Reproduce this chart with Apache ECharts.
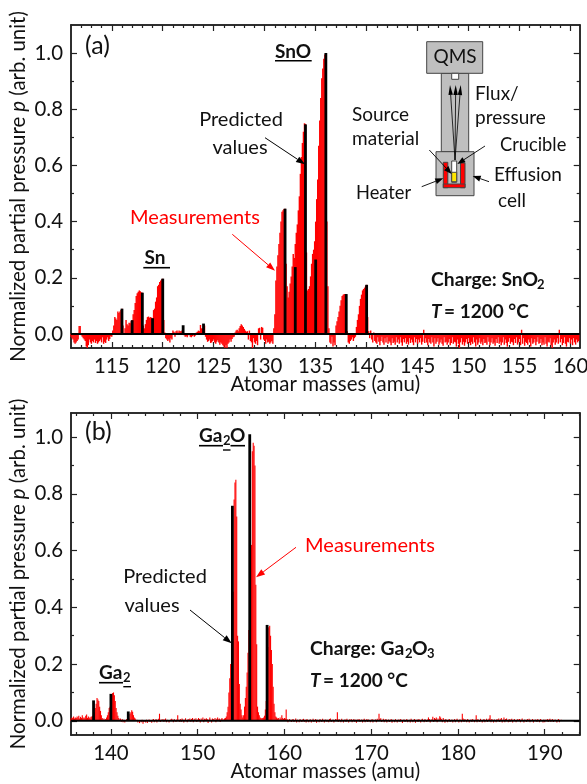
<!DOCTYPE html>
<html><head><meta charset="utf-8">
<style>html,body{margin:0;padding:0;background:#fff}#c{width:587px;height:784px}</style>
<script src="https://cdn.jsdelivr.net/npm/echarts@6/dist/echarts.min.js"></script>
</head><body><div id="c"></div>
<script>
// Panel (a): measured spectrum, 0.1 amu steps starting at 111.0
const startA = 111.0;
const measA = [
-.01,-.015,-.02,-.03,-.035,-.03,-.025,-.02,.028,.028,
-.005,-.01,-.015,-.02,-.025,-.045,-.05,-.04,-.02,-.03,
-.035,-.025,-.03,-.02,-.032,-.025,-.035,-.03,-.025,-.02,
-.03,-.012,-.035,-.028,-.032,-.02,-.012,-.025,-.018,-.008,
-.01,.012,.03,.06,.055,.05,.08,.075,.08,.085,
.09,.03,.003,.02,.05,.035,.03,.04,.038,.045,
.05,.07,.085,.11,.135,.145,.15,.155,.152,.148,
.147,.03,.02,.035,.05,.06,.062,.058,.06,.058,
.056,.085,.09,.115,.13,.17,.175,.185,.19,.195,
.197,.05,.005,-.015,-.02,-.025,-.02,-.03,-.015,-.02,
.012,.008,-.01,.01,.012,.005,.012,.01,.01,.012,
.008,-.005,-.01,-.008,-.012,-.005,.002,-.01,-.012,-.008,
-.005,-.01,-.006,.005,.008,.012,.01,.032,.02,.02,
.035,.03,-.01,-.02,-.028,-.025,-.02,-.032,-.03,-.025,
-.02,-.03,-.035,-.028,-.022,-.03,-.038,-.03,-.035,-.04,
-.045,-.05,-.04,-.05,-.035,-.03,-.02,-.028,-.018,-.012,
-.01,.005,.012,.015,.01,.02,.028,.035,.03,.025,
.018,.012,.008,.01,-.02,.012,-.025,-.03,-.05,-.015,
-.03,-.035,-.025,-.04,.02,.022,-.02,.025,.022,-.02,
-.025,-.035,-.02,-.03,-.028,-.035,-.03,-.025,-.035,.02,
.07,.19,.24,.28,.32,.36,.40,.435,.44,.445,
.446,.25,.17,.13,.15,.18,.205,.24,.285,.27,
.32,.36,.39,.44,.49,.57,.63,.68,.72,.75,
.748,.29,.155,.16,.17,.205,.25,.285,.30,.33,
.40,.48,.55,.67,.76,.84,.91,.945,.98,.995,
1.0,.40,.17,.02,-.03,-.035,-.01,-.045,-.03,-.04,
.03,.045,.06,.08,.10,.12,.135,.14,.142,.142,
.142,.01,-.03,-.035,-.025,-.02,-.012,-.025,-.015,-.01,
.025,.05,.07,.10,.125,.14,.155,.16,.165,.172,
.175,.06,.01,-.015,.012,-.02,-.03,.005,-.025,-.03,
-.035,-.012,-.028,-.04,-.025,-.01,-.03,-.038,-.015,-.03,
-.012,-.035,-.025,-.03,-.04,-.015,-.032,-.028,-.038,-.012,
-.03,-.02,-.035,-.012,-.03,-.042,-.018,-.03,-.015,-.035,
-.028,-.038,-.015,-.032,-.02,-.03,-.04,-.012,-.03,-.018,
-.035,-.02,-.03,-.015,-.038,-.028,.015,-.032,-.015,-.03,
-.04,-.018,-.03,-.035,-.012,-.03,-.045,-.015,-.035,-.028,
-.015,-.038,-.03,-.02,-.035,-.042,-.012,-.03,-.028,-.038,
-.03,-.018,-.04,-.032,-.012,-.035,-.028,-.03,-.045,-.02,
-.035,-.05,-.03,-.015,-.038,-.028,-.042,-.03,-.018,-.035,
-.015,-.032,-.04,-.028,-.035,-.012,-.03,-.045,-.02,-.038,
-.03,-.015,-.035,-.028,-.04,-.018,-.032,-.03,-.038,-.012,
-.028,-.04,-.03,-.015,-.035,-.03,-.042,-.018,-.032,-.012,
-.035,-.028,-.04,-.03,-.012,-.038,-.02,-.032,-.045,-.028,
-.015,-.035,-.028,-.03,-.04,-.018,-.032,-.012,-.038,-.03,
-.018,-.04,.015,-.035,-.015,-.042,-.028,-.032,-.038,-.02,
-.03,-.045,-.015,-.035,-.03,-.018,-.04,-.028,-.012,-.035,
-.032,-.018,-.04,-.03,-.038,-.012,-.035,-.045,-.028,-.03,
-.015,-.04,-.05,-.03,-.02,-.038,-.03,-.015,-.035,.015,
-.03,-.018,-.04,-.032,-.012,-.035,-.045,-.028,-.03,-.015,
-.035,-.02,-.04,-.015,-.03,-.038,-.02,-.03,-.025
];
// Panel (a): predicted isotope lines
const predMassA = [116,117,118,119,120,122,124,132,133,134,135,136,138,140];
const predValA = [.09,.049,.147,.056,.197,.031,.037,.446,.238,.746,.265,1.0,.142,.175];
const xMajorA = [115,120,125,130,135,140,145,150,155,160];
const xMinorA = [112,113,114,116,117,118,119,121,122,123,124,126,127,128,129,131,132,133,134,136,137,138,139,141,142,143,144,146,147,148,149,151,152,153,154,156,157,158,159];
const yMajor = [0,.2,.4,.6,.8,1];
const yMinor = [.1,.3,.5,.7,.9];

// Panel (b): measured spectrum, 0.1 amu steps starting at 135.4
const startB = 135.4;
const measB = [
.008,.012,.01,.015,.008,.012,
.01,.015,.012,.018,.008,.014,.01,.02,.012,.008,
.012,.018,.022,.01,.015,.012,.008,.014,.015,.018,
.02,.03,.045,.06,.08,.075,.07,.05,.035,.02,
.01,.005,.008,.004,.006,.012,.02,.03,.045,.05,
.06,.09,.098,.1,.09,.07,.045,.03,.018,.01,
.005,.008,-.003,.006,-.005,.004,-.006,.003,.006,.005,
.01,.008,.025,.03,.037,.032,.02,.012,.008,.003,
.004,-.006,.003,-.008,.002,-.005,.004,-.01,-.004,.003,
-.006,.004,-.008,.002,.005,-.004,.003,-.007,.004,.006,
-.005,.003,.006,-.006,.004,.007,.025,-.004,.005,.002,
.006,-.003,.005,.008,-.005,.004,.002,-.006,.003,.005,
.007,.004,-.005,.006,.003,-.004,.005,.02,.004,-.003,
.006,-.004,.008,.005,-.006,.004,.009,.003,-.005,.006,
.004,.008,-.003,.006,.01,-.005,.007,.004,.009,-.004,
.005,.01,.006,-.006,.008,.004,.012,-.005,.007,.005,
.009,.006,-.008,.005,.012,.004,-.006,.008,.006,.004,
.01,-.005,.007,.012,.005,.008,-.004,.006,.01,.005,
.005,.008,.01,.015,.03,.05,.10,.15,.2,.28,
.40,.455,.78,.84,.85,.72,.30,.28,.13,.06,
.04,.02,.012,.02,.05,.08,.12,.17,.24,.32,
.5,.55,.62,.95,.98,.97,.9,.48,.27,.05,
.03,.02,.012,.01,.008,.01,.012,.018,.04,.07,
.15,.26,.33,.335,.3,.25,.2,.12,.06,.03,
.015,.012,.008,.01,.005,.012,.006,.02,.01,.006,
.01,.008,.04,.006,-.005,.004,.006,.002,-.004,.005,
.006,-.004,.003,.008,-.006,.004,.002,-.005,.006,.003,
-.004,.005,.007,-.003,.004,-.006,.006,.002,-.005,.004,
.005,-.006,.003,.007,-.004,.002,.006,-.007,.004,.003,
-.005,.006,.002,-.004,.007,.003,-.006,.005,.004,-.003,
.004,-.005,.006,.008,-.004,.003,.005,-.006,.002,.006,
.004,.03,-.004,.006,.003,-.005,.007,.002,-.006,.004,
.005,-.004,.007,.003,-.006,.005,.002,.006,-.005,.003,
.006,-.003,.004,-.007,.005,.002,.006,-.004,.003,.005,
-.006,.004,.007,-.005,.003,.006,-.004,.005,.002,-.005,
.003,.006,-.006,.004,.002,.005,-.005,.007,.003,.025,
.006,.009,-.004,.003,.007,-.005,.004,.006,-.006,.003,
.005,-.004,.002,.006,-.007,.004,.003,-.005,.006,.002,
-.006,.004,.005,-.003,.006,.002,-.008,.004,.005,-.004,
.003,.006,-.005,.002,.004,-.006,.007,.003,-.005,.004,
.006,-.007,.003,.005,-.004,.006,.002,-.006,.004,.007,
.003,-.005,.006,.002,-.004,.005,.012,.006,-.006,.004,
.005,.014,-.004,.01,.006,.012,-.005,.008,.004,.016,
.012,.006,-.005,.01,.004,-.007,.006,.003,-.005,.004,
.006,-.004,.003,.005,-.006,.002,.006,-.005,.004,.007,
.003,-.006,.005,.004,-.005,.025,.008,-.004,.006,.003,
-.005,.006,.004,-.006,.003,.005,-.004,.006,.002,-.005,
.004,.02,-.005,.006,.003,-.004,.007,.002,-.006,.004,
.006,-.005,.003,.007,-.004,.005,.008,.02,-.005,.006,
.004,-.006,.005,.002,-.005,.006,.003,.008,-.004,.005,
.01,-.006,.004,.012,-.005,.006,.008,.003,-.005,.006,
-.004,.005,.007,-.006,.003,.006,.002,-.005,.004,.006,
.003,.006,-.005,.004,.008,.002,-.006,.005,.003,-.004,
.006,.003,.007,-.005,.004,.002,.006,-.006,.003,.005,
.004,-.004,.006,.002,-.005,.006,.004,.003,-.006,.005,
-.005,.004,.002,.006,-.004,.005,.007,-.003,.004,.006,
-.004,.003,.005,.002,-.006,.004,.006,-.005,.003,.004,
.003
];
const predMassB = [138,140,142,154,156,158];
const predValB = [.072,.095,.033,.758,1.01,.338];
const xMajorB = [140,150,160,170,180,190];
const xMinorB = [136,138,142,144,146,148,152,154,156,158,162,164,166,168,172,174,176,178,182,184,186,188,192,194];

const axisColor = '#222';
const F = 'Lato, "Noto Sans", sans-serif';
const black = '#000', red = '#ff0000';
const axisFont = 20.4;

function xAxes(g, mn, mx, major, minor){
  const base = {type:'value',gridIndex:g,min:mn,max:mx,splitLine:{show:false},
    axisLine:{show:true,onZero:false,lineStyle:{color:axisColor,width:1.5}}};
  const lab = {show:true,customValues:major,color:'#111',fontFamily:F,fontSize:axisFont,margin:8,
    formatter:v=>String(Math.round(v))};
  return [
    {...base,position:'bottom',axisLabel:lab,name:'Atomar masses (amu)',nameLocation:'middle',nameGap:26,nameMoveOverlap:false,
      nameTextStyle:{color:'#111',fontFamily:F,fontSize:axisFont},
      axisTick:{show:true,inside:true,length:6,customValues:major,lineStyle:{color:axisColor,width:1.2}}},
    {...base,position:'bottom',axisLabel:{show:false},
      axisTick:{show:true,inside:true,length:3,customValues:minor,lineStyle:{color:axisColor,width:1.2}}},
    {...base,position:'top',axisLabel:{show:false},
      axisTick:{show:true,inside:true,length:6,customValues:major,lineStyle:{color:axisColor,width:1.2}}},
    {...base,position:'top',axisLabel:{show:false},
      axisTick:{show:true,inside:true,length:3,customValues:minor,lineStyle:{color:axisColor,width:1.2}}}
  ];
}
function yAxes(g, mn, mx){
  const base = {type:'value',gridIndex:g,min:mn,max:mx,splitLine:{show:false},
    axisLine:{show:true,onZero:false,lineStyle:{color:axisColor,width:1.5}}};
  return [
    {...base,position:'left',
      axisLabel:{show:true,customValues:yMajor,color:'#111',fontFamily:F,fontSize:axisFont,margin:8,formatter:v=>v.toFixed(1)},
      name:'{n|Normalized partial pressure }{i|p}{n| (arb. unit)}',nameLocation:'middle',nameGap:43,nameRotate:90,nameMoveOverlap:false,
      nameTextStyle:{rich:{n:{color:'#111',fontFamily:F,fontSize:axisFont},i:{color:'#111',fontFamily:F,fontSize:axisFont,fontStyle:'italic'}}},
      axisTick:{show:true,inside:true,length:6,customValues:yMajor,lineStyle:{color:axisColor,width:1.2}}},
    {...base,position:'left',axisLabel:{show:false},
      axisTick:{show:true,inside:true,length:3,customValues:yMinor,lineStyle:{color:axisColor,width:1.2}}},
    {...base,position:'right',axisLabel:{show:false},
      axisTick:{show:true,inside:true,length:6,customValues:yMajor,lineStyle:{color:axisColor,width:1.2}}},
    {...base,position:'right',axisLabel:{show:false},
      axisTick:{show:true,inside:true,length:3,customValues:yMinor,lineStyle:{color:axisColor,width:1.2}}}
  ];
}
function panelSeries(xi, yi, start, meas, pm, pv, mn, mx, redW, blackW){
  return [
    {type:'bar',xAxisIndex:xi+1,yAxisIndex:yi,barWidth:redW,silent:true,itemStyle:{color:red},
      data:meas.map((v,i)=>[start+i*0.1,v])},
    {type:'bar',xAxisIndex:xi,yAxisIndex:yi,barWidth:blackW,silent:true,itemStyle:{color:black},
      data:pm.map((m,i)=>[m,pv[i]])},
    {type:'line',xAxisIndex:xi,yAxisIndex:yi,symbol:'none',silent:true,lineStyle:{color:black,width:2},
      data:[[mn,0],[mx,0]]}
  ];
}

// annotation helpers
function T(x,y,text,o={}){
  return {type:'text',silent:true,x,y,z:50,style:{text,fontFamily:F,fontSize:o.fs||19,fontWeight:o.b?'bold':'normal',
    fontStyle:o.i?'italic':'normal',fill:o.c||'#111',align:o.a||'left',verticalAlign:'middle'}};
}
function L(x1,y1,x2,y2,c='#000',w=1){
  return {type:'line',silent:true,z:40,shape:{x1,y1,x2,y2},style:{stroke:c,lineWidth:w}};
}
function R(x,y,w,h,fill,stroke){
  return {type:'rect',silent:true,z:30,shape:{x,y,width:w,height:h},style:{fill,stroke:stroke||null,lineWidth:stroke?1:0}};
}
function A(x1,y1,x2,y2,c='#000',w=1,hl=9,hw=3.2){
  const d=Math.hypot(x2-x1,y2-y1),ux=(x2-x1)/d,uy=(y2-y1)/d,bx=x2-ux*hl,by=y2-uy*hl;
  return [L(x1,y1,bx,by,c,w),{type:'polygon',silent:true,z:41,shape:{points:[[x2,y2],[bx-uy*hw,by+ux*hw],[bx+uy*hw,by-ux*hw]]},style:{fill:c}}];
}
const gray='#bfbfbf', edge='#444';
const graphics = [
  T(85,46,'(a)',{fs:25}), T(85,432,'(b)',{fs:25}),
  // panel a labels
  T(293,52,'SnO',{b:1,a:'center'}), L(275,60.7,311.7,60.7,'#000',1.6),
  T(155,258,'Sn',{b:1,a:'center'}), L(143.3,267.7,170,267.7,'#000',1.6),
  T(241,120,'Predicted',{a:'center',fs:20}), T(240,148,'values',{a:'center',fs:20}),
  T(195,218,'Measurements',{a:'center',c:red,fs:20}),
  T(431,280,'Charge: SnO',{b:1,fs:19.3}), T(537,285,'2',{b:1,fs:13}),
  T(431,312,'T',{b:1,i:1,fs:19}), T(444,312,'= 1200 °C',{b:1,fs:19}),
  // panel a inset
  R(441.3,73.3,27.4,78.4,gray,edge), R(426.7,41.7,56,31.6,gray,edge), R(451.7,73.3,7,6,'#fff',edge),
  R(436,151.7,38,44,gray,edge),
  R(443.3,162.3,4.5,25.4,red,edge), R(460.5,163,4.5,24.7,red,edge), R(443.3,184,21.7,3.7,red,edge),
  R(451.7,161,5,21.3,'#fff',edge), R(451.7,172.3,5,9.4,'#ffe600',edge),
  T(455,57,'QMS',{a:'center'}),
  T(475,94,'Flux/'), T(475,118,'pressure'), T(352,115,'Source'), T(352,139,'material'),
  T(500,145,'Crucible',{fs:18.3}), T(356,193,'Heater',{fs:18.3}), T(494,175,'Effusion'), T(498,201,'cell'),
  ...A(455,160,450,85,'#000',.8,10,2.2), ...A(455,160,455.7,85,'#000',.8,10,2.2), ...A(455,160,460.7,85,'#000',.8,10,2.2),
  ...A(429.3,150,451.7,174,'#000',.9,8,3), ...A(485,146,457.3,164,'#000',.9,8,3),
  ...A(421.7,186.7,443.3,178.3,'#000',.9,8,3), ...A(489,181.7,472.7,176,'#000',.9,8,3),
  ...A(265,137.7,305,164.3,'#000',1,9,3.2), ...A(232.3,234.3,275,270.7,red,1,9,3.2),
  // panel b labels
  T(199,436,'Ga',{b:1}), T(223,441,'2',{b:1,fs:13}), T(230,436,'O',{b:1}),
  L(199,445.7,223,445.7,'#000',1.6), L(230.5,445.7,245,445.7,'#000',1.6), L(223,450,230.5,450,'#000',1.4),
  T(99,673,'Ga',{b:1}), T(123,678,'2',{b:1,fs:13}),
  L(99,682.7,123,682.7,'#000',1.6), L(123.3,686.7,131,686.7,'#000',1.4),
  T(370,546,'Measurements',{a:'center',c:red,fs:20}),
  T(165,577,'Predicted',{a:'center',fs:20}), T(152,606,'values',{a:'center',fs:20}),
  T(310,649,'Charge: Ga',{b:1,fs:19.3}), T(405,654,'2',{b:1,fs:13}), T(412,649,'O',{b:1,fs:19.3}), T(427,654,'3',{b:1,fs:13}),
  T(310,681,'T',{b:1,i:1,fs:19}), T(323,681,'= 1200 °C',{b:1,fs:19}),
  ...A(190,610,231.7,643.3,'#000',1,9,3.2), ...A(296,547.3,256,577.3,red,1,9,3.2)
];

const chart = echarts.init(document.getElementById('c'),null,{renderer:'canvas'});
const minA=111, maxA=160.9, minB=135.4, maxB=194.03;
chart.setOption({
  animation:false,
  backgroundColor:'#fff',
  grid:[{left:71,top:25,width:508.7,height:323,outerBoundsMode:'none'},{left:71,top:413,width:508.7,height:322,outerBoundsMode:'none'}],
  xAxis:[...xAxes(0,minA,maxA,xMajorA,xMinorA),...xAxes(1,minB,maxB,xMajorB,xMinorB)],
  yAxis:[...yAxes(0,-.05,1.1),...yAxes(1,-.05,1.085)],
  series:[
    ...panelSeries(0,0,startA,measA,predMassA,predValA,minA,maxA,1.4,2.8),
    ...panelSeries(4,4,startB,measB,predMassB,predValB,minB,maxB,1.1,2.8)
  ],
  graphic:graphics
});
</script></body></html>
